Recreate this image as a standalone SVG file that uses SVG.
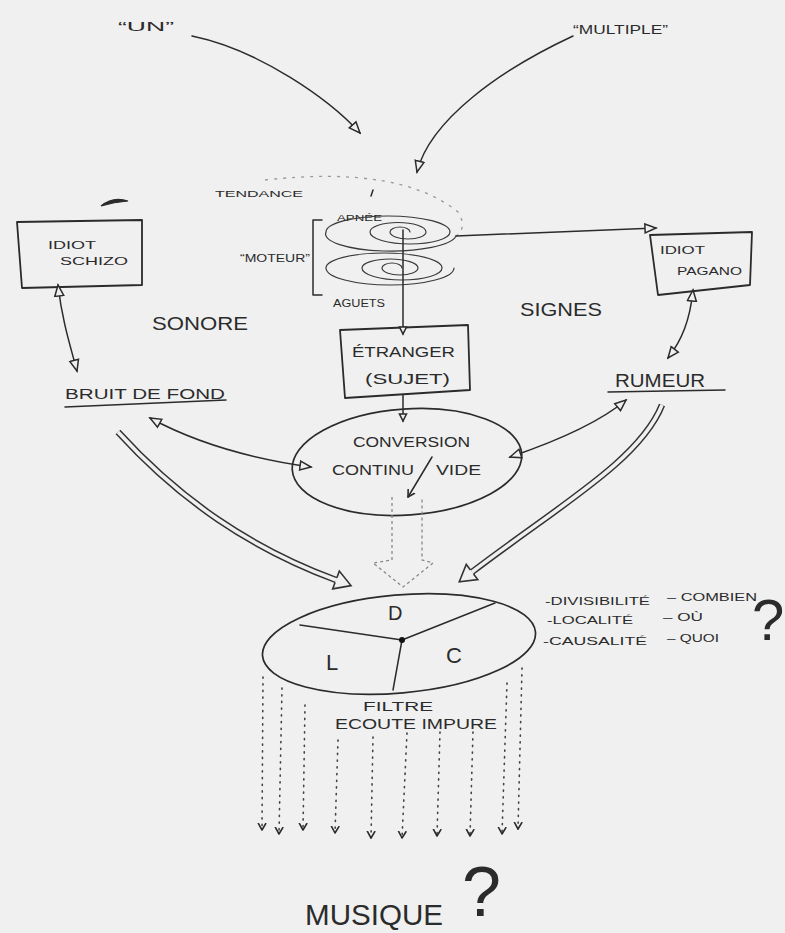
<svg xmlns="http://www.w3.org/2000/svg" width="785" height="933" viewBox="0 0 785 933">
<style>
.t{font-family:"Liberation Sans","DejaVu Sans",sans-serif;fill:#2b2b2b;}
.ln{fill:none;stroke:#2b2b2b;stroke-width:1.5;stroke-linecap:round;stroke-linejoin:round;}
.sp{fill:none;stroke:#3a3a3a;stroke-width:1.2;stroke-linecap:round;}
.box{fill:none;stroke:#2b2b2b;stroke-width:1.8;stroke-linejoin:round;}
.dbl{fill:none;stroke:#333;stroke-width:6.5;stroke-linecap:butt;}
.dblin{fill:none;stroke:#f0f0f0;stroke-width:3.5;stroke-linecap:butt;}
.dot{fill:none;stroke:#444;stroke-width:1.6;stroke-dasharray:1.2 5.5;stroke-linecap:round;}
</style>
<defs>
<marker id="tri" markerUnits="userSpaceOnUse" viewBox="0 -7 14 14" markerWidth="14" markerHeight="14" refX="12" refY="0" orient="auto-start-reverse">
<path d="M1,-4.5 L12,0 L1,4.5 Z" fill="#f0f0f0" stroke="#2b2b2b" stroke-width="1.5"/>
</marker>
<marker id="sm" markerUnits="userSpaceOnUse" viewBox="0 -6 10 12" markerWidth="10" markerHeight="12" refX="8" refY="0" orient="auto">
<path d="M1,-3.5 L8,0 L1,3.5 Z" fill="#f0f0f0" stroke="#2b2b2b" stroke-width="1.6"/>
</marker>
<marker id="chev" markerUnits="userSpaceOnUse" viewBox="0 -6 9 12" markerWidth="9" markerHeight="12" refX="7" refY="0" orient="auto">
<path d="M0,-4 L7,0 L0,4" fill="none" stroke="#2b2b2b" stroke-width="1.6" stroke-linejoin="round"/>
</marker>
<marker id="big" markerUnits="userSpaceOnUse" viewBox="0 -12 20 24" markerWidth="20" markerHeight="24" refX="2" refY="0" orient="auto">
<path d="M2,-2.5 L2,-9.5 L18,0 L2,9.5 L2,2.5" fill="#f0f0f0" stroke="#333" stroke-width="1.6" stroke-linejoin="miter"/>
</marker>
</defs>
<rect width="785" height="933" fill="#f0f0f0"/>

<g id="top-labels">
<text class="t" x="118" y="31" font-size="13" textLength="56" lengthAdjust="spacingAndGlyphs">“UN”</text>
<text class="t" x="573" y="34" font-size="12" textLength="95" lengthAdjust="spacingAndGlyphs">“MULTIPLE”</text>
</g>

<g id="spiral">
<path class="sp" d="M 410 232 A 10 5 0 0 0 390 232 A 18 7 0 0 0 426 232 A 28 9.5 0 0 0 370 232 A 40 12 0 0 0 450 232 A 62 16 0 0 0 326 232 A 65 17 0 0 0 456 236"/>
<path class="sp" d="M 402 268 A 10 5 0 0 0 382 268 A 18 7 0 0 0 418 268 A 28 9 0 0 0 362 268 A 40 12 0 0 0 442 268 A 58 15 0 0 0 326 268 A 64 17 0 0 0 454 268"/>
<path d="M 265 180 Q 400 165 458 212 Q 468 228 455 237" fill="none" stroke="#999" stroke-width="1.3" stroke-dasharray="3 6"/>
<path class="ln" d="M 371 196 L 373 190"/>
<path class="ln" d="M 322 220 L 313 220 L 313 295 L 322 295"/>
<text class="t" x="215" y="197" font-size="9" textLength="88" lengthAdjust="spacingAndGlyphs">TENDANCE</text>
<text class="t" x="337" y="221" font-size="9" textLength="45" lengthAdjust="spacingAndGlyphs">APNÉE</text>
<text class="t" x="240" y="262" font-size="10" textLength="70" lengthAdjust="spacingAndGlyphs">“MOTEUR”</text>
<text class="t" x="333" y="307" font-size="10" textLength="52" lengthAdjust="spacingAndGlyphs">AGUETS</text>
</g>

<g id="hat">
<path d="M101,206 Q113,196 128,201 Q114,202 101,206 Z" fill="#2b2b2b" stroke="#2b2b2b" stroke-width="1.2"/>
</g>

<g id="idiot-schizo">
<polygon class="box" points="17,222 142,220 142,285 22,288"/>
<text class="t" x="48" y="249" font-size="11" textLength="48" lengthAdjust="spacingAndGlyphs">IDIOT</text>
<text class="t" x="60" y="265" font-size="11" textLength="68" lengthAdjust="spacingAndGlyphs">SCHIZO</text>
</g>

<g id="idiot-pagano">
<polygon class="box" points="650,235 752,232 750,285 658,295"/>
<text class="t" x="660" y="254" font-size="11" textLength="45" lengthAdjust="spacingAndGlyphs">IDIOT</text>
<text class="t" x="677" y="275" font-size="11" textLength="65" lengthAdjust="spacingAndGlyphs">PAGANO</text>
</g>

<g id="sonore"><text class="t" x="152" y="330" font-size="19" textLength="96" lengthAdjust="spacingAndGlyphs">SONORE</text></g>
<g id="signes"><text class="t" x="520" y="316" font-size="19" textLength="82" lengthAdjust="spacingAndGlyphs">SIGNES</text></g>

<g id="etranger">
<polygon class="box" points="340,330 468,325 470,390 345,398"/>
<text class="t" x="352" y="357" font-size="14" textLength="103" lengthAdjust="spacingAndGlyphs">ÉTRANGER</text>
<text class="t" x="365" y="384" font-size="14" textLength="85" lengthAdjust="spacingAndGlyphs">(SUJET)</text>
</g>

<g id="bruit">
<text class="t" x="65" y="399" font-size="15" textLength="160" lengthAdjust="spacingAndGlyphs">BRUIT DE FOND</text>
<path class="ln" d="M 65 407 L 226 400"/>
</g>

<g id="rumeur">
<text class="t" x="615" y="387" font-size="19" textLength="90" lengthAdjust="spacingAndGlyphs">RUMEUR</text>
<path class="ln" d="M 608 392 L 725 390"/>
</g>

<g id="conversion">
<ellipse cx="407" cy="462" rx="115" ry="53" transform="rotate(-4 407 462)" fill="none" stroke="#2b2b2b" stroke-width="1.7"/>
<text class="t" x="353" y="447" font-size="14" textLength="117" lengthAdjust="spacingAndGlyphs">CONVERSION</text>
<text class="t" x="332" y="475" font-size="14" textLength="82" lengthAdjust="spacingAndGlyphs">CONTINU</text>
<text class="t" x="436" y="475" font-size="14" textLength="45" lengthAdjust="spacingAndGlyphs">VIDE</text>
</g>

<g id="filtre">
<ellipse cx="399" cy="644" rx="137" ry="49" transform="rotate(-5 399 644)" fill="none" stroke="#2b2b2b" stroke-width="1.7"/>
<path class="ln" d="M 300 625 L 402 640 L 495 603 M 402 640 L 393 690"/>
<circle cx="402" cy="640" r="3" fill="#111"/>
<text class="t" x="388" y="620" font-size="20">D</text>
<text class="t" x="326" y="670" font-size="22">L</text>
<text class="t" x="446" y="663" font-size="22">C</text>
<text class="t" x="363" y="711" font-size="13" textLength="70" lengthAdjust="spacingAndGlyphs">FILTRE</text>
<text class="t" x="335" y="729" font-size="15" textLength="162" lengthAdjust="spacingAndGlyphs">ECOUTE IMPURE</text>
</g>

<g id="questions">
<text class="t" x="545" y="605" font-size="11" textLength="105" lengthAdjust="spacingAndGlyphs">-DIVISIBILITÉ</text>
<text class="t" x="667" y="601" font-size="11" textLength="90" lengthAdjust="spacingAndGlyphs">– COMBIEN</text>
<text class="t" x="547" y="624" font-size="11" textLength="86" lengthAdjust="spacingAndGlyphs">-LOCALITÉ</text>
<text class="t" x="663" y="621" font-size="11" textLength="40" lengthAdjust="spacingAndGlyphs">– OÙ</text>
<text class="t" x="543" y="645" font-size="11" textLength="104" lengthAdjust="spacingAndGlyphs">-CAUSALITÉ</text>
<text class="t" x="667" y="642" font-size="11" textLength="52" lengthAdjust="spacingAndGlyphs">– QUOI</text>
<text class="t" x="752" y="640" font-size="58">?</text>
</g>

<g id="musique">
<text class="t" x="305" y="925" font-size="30" textLength="138" lengthAdjust="spacingAndGlyphs">MUSIQUE</text>
<text class="t" x="462" y="916" font-size="70">?</text>
</g>

<g id="connectors">
<path class="ln" d="M 192 36 C 260 50 330 100 360 133" marker-end="url(#tri)"/>
<path class="ln" d="M 573 36 C 500 70 430 120 417 172" marker-end="url(#tri)"/>
<path class="ln" d="M 403 230 L 403 334" marker-end="url(#sm)"/>
<path class="ln" d="M 456 236 L 656 228" marker-end="url(#tri)"/>
<path class="ln" d="M 58 285 C 62 320 70 345 77 371" marker-start="url(#tri)" marker-end="url(#tri)"/>
<path class="ln" d="M 693 290 C 690 320 682 340 668 358" marker-start="url(#tri)" marker-end="url(#tri)"/>
<path class="ln" d="M 403 395 L 403 421" marker-end="url(#sm)"/>
<path class="ln" d="M 311 467 C 260 460 200 445 150 418" marker-start="url(#tri)" marker-end="url(#tri)"/>
<path class="ln" d="M 510 457 C 560 440 600 422 626 400" marker-start="url(#tri)" marker-end="url(#tri)"/>
<path class="ln" d="M 432 457 L 408 497" marker-end="url(#chev)"/>

<path class="dbl" d="M 118 432 C 180 500 250 548 336 580"/>
<path class="dblin" d="M 118 432 C 180 500 250 548 336 580" marker-end="url(#big)"/>
<path class="dbl" d="M 662 405 C 640 460 560 505 472 572"/>
<path class="dblin" d="M 662 405 C 640 460 560 505 472 572" marker-end="url(#big)"/>

<path d="M 392 497 L 392 560 L 373 563 L 403 587 L 433 563 L 422 560 L 422 497" fill="none" stroke="#888" stroke-width="1.3" stroke-dasharray="3 3"/>

<path class="dot" d="M 263 677 L 262 830" marker-end="url(#chev)"/>
<path class="dot" d="M 282 688 L 279 834" marker-end="url(#chev)"/>
<path class="dot" d="M 305 705 L 303 830" marker-end="url(#chev)"/>
<path class="dot" d="M 338 740 L 335 833" marker-end="url(#chev)"/>
<path class="dot" d="M 373 737 L 371 838" marker-end="url(#chev)"/>
<path class="dot" d="M 407 733 L 402 838" marker-end="url(#chev)"/>
<path class="dot" d="M 440 732 L 437 836" marker-end="url(#chev)"/>
<path class="dot" d="M 473 732 L 470 836" marker-end="url(#chev)"/>
<path class="dot" d="M 507 683 L 502 834" marker-end="url(#chev)"/>
<path class="dot" d="M 522 668 L 518 829" marker-end="url(#chev)"/>
</g>
</svg>
